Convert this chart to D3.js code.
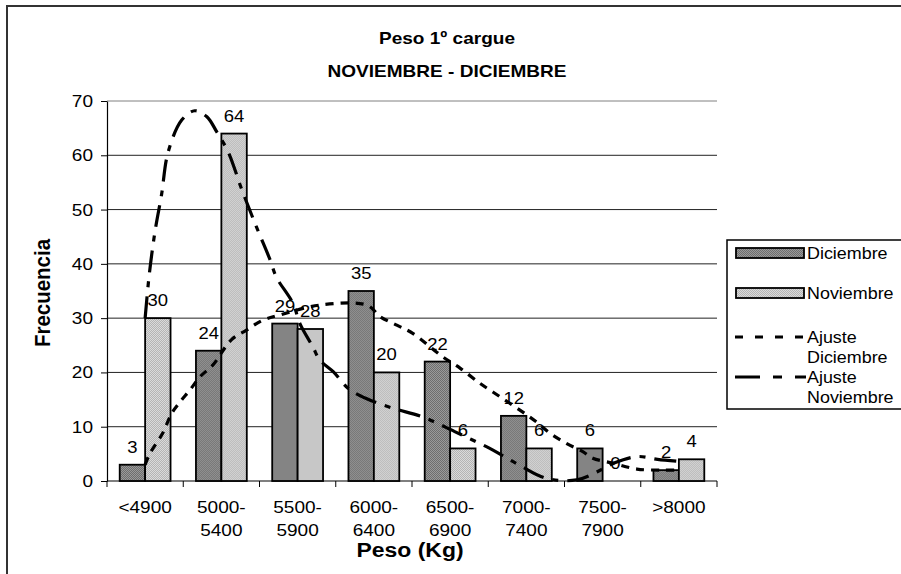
<!DOCTYPE html>
<html>
<head>
<meta charset="utf-8">
<script src="https://cdn.jsdelivr.net/npm/d3@7"></script>
<style>
  html, body { margin: 0; padding: 0; background: #fff; }
  svg { display: block; font-family: "Liberation Sans", Arial, sans-serif; }
</style>
</head>
<body>
<svg id="chart" width="901" height="574"></svg>
<script>
// Weight classes and frequency per month
const categories = ["<4900", "5000-5400", "5500-5900", "6000-6400", "6500-6900", "7000-7400", "7500-7900", ">8000"];
const diciembre = [3, 24, 29, 35, 22, 12, 6, 2];
const noviembre = [30, 64, 28, 20, 6, 6, 0, 4];
const yTicks = [0, 10, 20, 30, 40, 50, 60, 70];

// Fitted curves: position in class units (0 = first class) and frequency
const ajusteDicPos = [0, 0.06, 0.23, 0.35, 0.46, 0.59, 0.72, 0.89, 1.13, 1.33, 1.54, 1.77, 2.29, 2.91, 3.08, 3.3, 3.51, 3.9, 4.13, 4.39, 4.56, 4.91, 5.13, 5.31, 5.53, 5.74, 5.87, 6.13, 6.45, 6.79, 7];
const ajusteDicVal = [3, 5, 8.8, 12.5, 14.6, 16.8, 19.2, 21.4, 26, 27.8, 29.6, 30.6, 32.4, 32.4, 30.3, 28.7, 27.2, 22.9, 20.8, 18, 16.4, 13.1, 10.9, 8.8, 6.9, 5.4, 4.2, 3.3, 2.2, 2, 2];
const ajusteNovPos = [0, 0.054, 0.13, 0.216, 0.3, 0.48, 0.65, 0.81, 0.94, 1.09, 1.27, 1.46, 1.64, 1.72, 1.94, 2.03, 2.2, 2.29, 2.47, 2.66, 2.9, 3.25, 3.64, 4.06, 4.52, 4.91, 5.26, 5.66, 6.0, 6.15, 6.45, 6.72, 7];
const ajusteNovVal = [30, 38, 46, 52.8, 60.5, 66.5, 68.2, 67.1, 64.3, 60.6, 53.6, 46.8, 40.7, 37.6, 32.7, 29, 24.7, 22.3, 20.1, 17.1, 15.2, 13.4, 11.8, 9.1, 6, 2.9, 0.5, 0.2, 2.2, 3.3, 4.5, 4, 3.6];

const seriesNames = ["Diciembre", "Noviembre"];

const svg = d3.select("#chart");
const FONT = "'Liberation Sans', Arial, sans-serif";
const STRETCH = 1.12; // horizontal widening of the chart text

// Text helper: places a string with a slight horizontal stretch
function label(parent, x, y, str, opts = {}) {
  return parent.append("text")
    .attr("transform", `translate(${x},${y}) scale(${STRETCH},1)`)
    .attr("text-anchor", opts.anchor || "start")
    .attr("font-family", FONT)
    .attr("font-size", opts.size || 17)
    .attr("font-weight", opts.weight || "normal")
    .attr("fill", "#000")
    .text(str);
}

// Fill patterns for the bars
const defs = svg.append("defs");
function dotPattern(id, base, dot) {
  const p = defs.append("pattern").attr("id", id).attr("patternUnits", "userSpaceOnUse")
    .attr("width", 2).attr("height", 2);
  p.append("rect").attr("width", 2).attr("height", 2).attr("fill", base);
  p.append("rect").attr("width", 1).attr("height", 1).attr("fill", dot);
  p.append("rect").attr("x", 1).attr("y", 1).attr("width", 1).attr("height", 1).attr("fill", dot);
}
dotPattern("patDic", "#9a9a9a", "#6e6e6e");
dotPattern("patNov", "#dadada", "#b4b4b4");
const fills = { Diciembre: "url(#patDic)", Noviembre: "url(#patNov)" };

// Outer chart frame
svg.append("rect").attr("x", 7).attr("y", 6).attr("width", 920).attr("height", 620)
  .attr("fill", "none").attr("stroke", "#333").attr("stroke-width", 2);

const plot = { left: 107, right: 717, top: 101, bottom: 481 };

const x = d3.scaleBand().domain(categories).range([plot.left, plot.right]).padding(0);
const xs = d3.scaleBand().domain(seriesNames).range([0, x.bandwidth()]).paddingInner(0).paddingOuter(0.5);
const y = d3.scaleLinear().domain([0, 70]).range([plot.bottom, plot.top]);
const xFit = d3.scaleLinear().domain([0, categories.length - 1])
  .range([x(categories[0]) + x.bandwidth() / 2, x(categories[categories.length - 1]) + x.bandwidth() / 2]);

// Gridlines
svg.append("g").selectAll("line").data(yTicks.filter(d => d > 0)).join("line")
  .attr("x1", plot.left).attr("x2", plot.right)
  .attr("y1", d => y(d)).attr("y2", d => y(d))
  .attr("stroke", d => d === 70 ? "#808080" : "#222").attr("stroke-width", 1);

// Y axis
const yAxis = svg.append("g").attr("transform", `translate(${plot.left},0)`)
  .call(d3.axisLeft(y).tickValues(yTicks).tickSize(6).tickSizeOuter(0).tickFormat(""));
yAxis.select(".domain").attr("stroke", "#000").attr("stroke-width", 1.2);
yAxis.selectAll(".tick line").attr("stroke", "#000");
const yLab = svg.append("g");
yTicks.forEach(t => label(yLab, plot.left - 14, y(t) + 6, t, { anchor: "end", size: 17 }));

// X axis with ticks on class boundaries
const xAxisG = svg.append("g");
xAxisG.append("line").attr("x1", plot.left).attr("x2", plot.right)
  .attr("y1", plot.bottom).attr("y2", plot.bottom).attr("stroke", "#000").attr("stroke-width", 1.2);
xAxisG.selectAll("line.tk").data(d3.range(categories.length + 1)).join("line")
  .attr("class", "tk")
  .attr("x1", i => plot.left + i * x.bandwidth()).attr("x2", i => plot.left + i * x.bandwidth())
  .attr("y1", plot.bottom).attr("y2", plot.bottom + 6).attr("stroke", "#000");
categories.forEach(c => {
  const cx = x(c) + x.bandwidth() / 2;
  const parts = c.includes("-") ? [c.slice(0, c.indexOf("-") + 1), c.slice(c.indexOf("-") + 1)] : [c];
  parts.forEach((p, k) => label(xAxisG, cx, 513 + k * 23, p, { anchor: "middle", size: 17 }));
});

// Bars
const rows = categories.map((c, i) => ({ c, Diciembre: diciembre[i], Noviembre: noviembre[i] }));
const groups = svg.append("g").selectAll("g").data(rows).join("g")
  .attr("transform", d => `translate(${x(d.c)},0)`);
groups.selectAll("rect").data(d => seriesNames.map(s => ({ s, v: d[s] }))).join("rect")
  .attr("x", d => xs(d.s)).attr("width", xs.bandwidth())
  .attr("y", d => y(d.v)).attr("height", d => y(0) - y(d.v))
  .attr("fill", d => fills[d.s]).attr("stroke", "#000").attr("stroke-width", 1.8);

// Value labels
groups.each(function(d) {
  const g = d3.select(this);
  seriesNames.forEach(s => {
    label(g, xs(s) + xs.bandwidth() / 2, y(d[s]) - 12, d[s], { anchor: "middle", size: 16.5 });
  });
});

// Fitted curves
const line = d3.line().x(d => xFit(d[0])).y(d => y(d[1])).curve(d3.curveCatmullRom.alpha(0.5));
svg.append("path").datum(ajusteDicPos.map((p, i) => [p, ajusteDicVal[i]]))
  .attr("d", line).attr("fill", "none").attr("stroke", "#000").attr("stroke-width", 3.2)
  .attr("stroke-dasharray", "8,7");
svg.append("path").datum(ajusteNovPos.map((p, i) => [p, ajusteNovVal[i]]))
  .attr("d", line).attr("fill", "none").attr("stroke", "#000").attr("stroke-width", 3.2)
  .attr("stroke-dasharray", "22,9,6,9");

// Titles
label(svg, 447, 44, "Peso 1º cargue", { anchor: "middle", size: 17, weight: "bold" });
label(svg, 447, 77, "NOVIEMBRE - DICIEMBRE", { anchor: "middle", size: 17, weight: "bold" });
label(svg, 410, 557, "Peso (Kg)", { anchor: "middle", size: 20.5, weight: "bold" });
svg.append("text").attr("transform", "translate(50,293) rotate(-90) scale(1,1.1)").attr("text-anchor", "middle")
  .attr("font-family", FONT).attr("font-size", 20.5).attr("font-weight", "bold").text("Frecuencia");

// Legend
const lg = svg.append("g");
lg.append("rect").attr("x", 727).attr("y", 240).attr("width", 200).attr("height", 169)
  .attr("fill", "#fff").attr("stroke", "#000").attr("stroke-width", 1.5);
const legendItems = [
  { type: "bar", key: "Diciembre", lines: ["Diciembre"], y: 253 },
  { type: "bar", key: "Noviembre", lines: ["Noviembre"], y: 293 },
  { type: "line", dash: "8,12", lines: ["Ajuste", "Diciembre"], y: 337 },
  { type: "line", dash: "25,13,9,13", lines: ["Ajuste", "Noviembre"], y: 377 }
];
legendItems.forEach(it => {
  if (it.type === "bar") {
    lg.append("rect").attr("x", 736).attr("y", it.y - 5).attr("width", 68).attr("height", 10)
      .attr("fill", fills[it.key]).attr("stroke", "#000").attr("stroke-width", 1.8);
  } else {
    lg.append("line").attr("x1", 735).attr("x2", 806).attr("y1", it.y).attr("y2", it.y)
      .attr("stroke", "#000").attr("stroke-width", 3.2).attr("stroke-dasharray", it.dash);
  }
  it.lines.forEach((t, k) => label(lg, 807, it.y + 6 + k * 20, t, { size: 16 }));
});
</script>
</body>
</html>
